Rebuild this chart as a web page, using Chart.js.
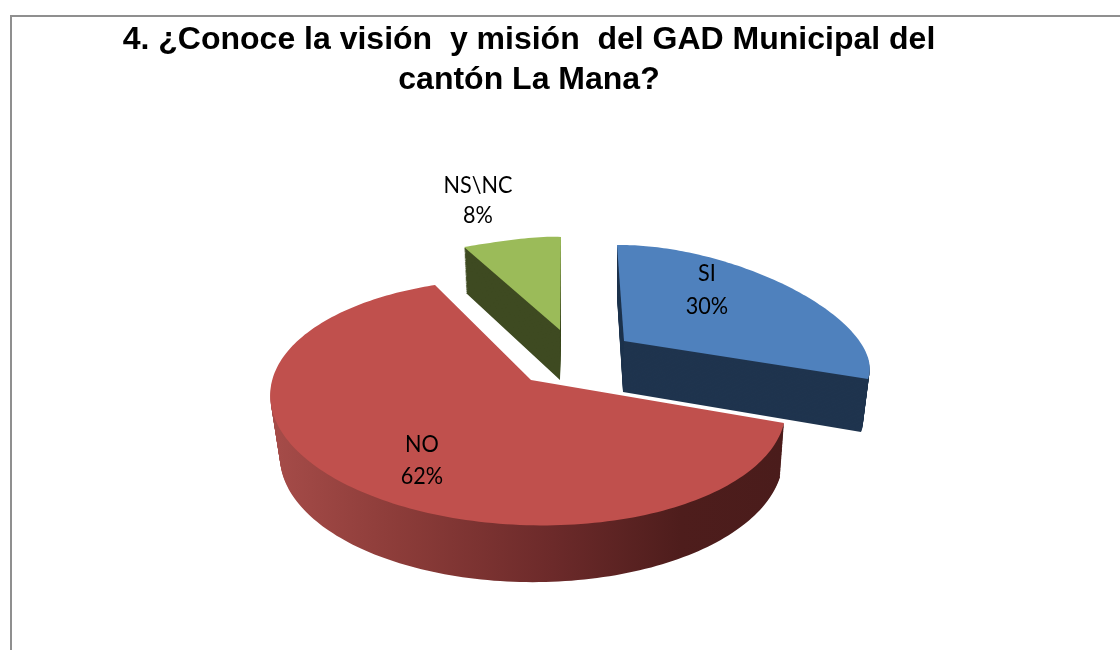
<!DOCTYPE html>
<html>
<head>
<meta charset="utf-8">
<style>
  html, body { margin: 0; padding: 0; background: #fff; overflow: hidden; }
  #frame { position: absolute; left: 10px; top: 15px; width: 1200px; height: 800px; border: 2px solid #8f8f8f; }
  canvas { position: absolute; left: 0; top: 0; }
</style>
<script src="https://cdn.jsdelivr.net/npm/chart.js@4/dist/chart.umd.min.js"></script>
</head>
<body>
<div id="frame"></div>
<canvas id="pieChart" width="1120" height="650"></canvas>
<script>
const titleLines = ['4. ¿Conoce la visión  y misión  del GAD Municipal del', 'cantón La Mana?'];
const categories = ['SI', 'NO', 'NS\\NC'];
const values = [30, 62, 8];
const faceColors = ['#4f81bd', '#c0504d', '#9bbb59'];
const sideColors = ['#1f344e', null, '#3e4a21'];

// where each exploded slice lands on the page, top face and bottom face:
// apex, then points on the arc at the fractions in `fracs`
const sliceViews = [
    { fracs: [0, 0.33, 0.66, 1], top: [[624, 341], [617, 245], [712, 258], [823, 307], [868, 379]], bottom: [[623, 392], [617, 297], [707, 311], [817, 362], [861, 432]] },
    { fracs: [0, 0.30, 0.614, 1], top: [[531, 380], [784, 423], [521, 525], [271, 405], [435, 285]], bottom: [[531, 433], [780, 477], [521, 582], [281, 468], [441, 340]] },
    { fracs: [0, 0.33, 0.66, 1], top: [[560, 330], [464, 247], [496, 242], [529, 238], [561, 237]], bottom: [[560, 380], [466, 293], [498, 291], [530, 288], [561, 287]] }
];
const labelSpots = [[707, 273, 306], [422, 444, 476], [478, 185, 215]];
const drawOrder = [2, 0, 1];

function solveHomography (src, dst, apex) {
    let m = [];
    src.forEach((s, i) => {
        let [u, v] = s, [x, y] = dst[i];
        m.push([u, v, 1, 0, 0, 0, -u * x, -v * x, x]);
        m.push([0, 0, 0, u, v, 1, -u * y, -v * y, y]);
    });
    for (let c = 0; c < 8; c++) {
        let p = c;
        for (let r = c + 1; r < 8; r++) if (Math.abs(m[r][c]) > Math.abs(m[p][c])) p = r;
        [m[c], m[p]] = [m[p], m[c]];
        for (let r = 0; r < 8; r++) {
            if (r === c) continue;
            let f = m[r][c] / m[c][c];
            for (let k = c; k < 9; k++) m[r][k] -= f * m[c][k];
        }
    }
    let h = m.map((row, i) => row[8] / row[i]);
    return (u, v) => {
        if (Math.abs(u) < 1e-6 && Math.abs(v) < 1e-6) return apex;
        let w = h[6] * u + h[7] * v + 1;
        return [(h[0] * u + h[1] * v + h[2]) / w, (h[3] * u + h[4] * v + h[5]) / w];
    };
}

// stands in for the canvas while an arc element draws itself,
// bends every point of its path through the slice's view
function projectedContext (ctx, el, project, fill) {
    let props = el.getProps(['x', 'y', 'outerRadius']);
    let put = (px, py, first) => {
        let p = project((px - props.x) / props.outerRadius, (py - props.y) / props.outerRadius);
        if (first) ctx.moveTo(p[0], p[1]); else ctx.lineTo(p[0], p[1]);
    };
    let started = false;
    return {
        save () { ctx.save(); },
        restore () { ctx.restore(); },
        translate () {},
        beginPath () { ctx.beginPath(); started = false; },
        closePath () { ctx.closePath(); },
        moveTo (x, y) { put(x, y, true); started = true; },
        lineTo (x, y) { put(x, y, !started); started = true; },
        arc (x, y, r, a0, a1) {
            let n = Math.max(2, Math.ceil(Math.abs(a1 - a0) / 0.02));
            for (let i = 0; i <= n; i++) {
                let a = a0 + (a1 - a0) * i / n;
                put(x + r * Math.cos(a), y + r * Math.sin(a), !started);
                started = true;
            }
        },
        fill () { ctx.fillStyle = fill; ctx.fill(); },
        stroke () {},
        set fillStyle (v) {},
        set strokeStyle (v) {},
        set lineWidth (v) {},
        set lineJoin (v) {},
        setLineDash () {},
        set lineDashOffset (v) {}
    };
}

const slices3d = {
    id: 'slices3d',
    beforeDatasetDraw (chart, args) {
        let ctx = chart.ctx;
        let arcs = args.meta.data;
        drawOrder.forEach(i => {
            let el = arcs[i], view = sliceViews[i];
            let a0 = el.startAngle, a1 = el.endAngle;
            let src = view.fracs.map(f => {
                let a = a0 + (a1 - a0) * f;
                return [Math.cos(a), Math.sin(a)];
            });
            let top = solveHomography(src, view.top.slice(1), view.top[0]);
            let bottom = solveHomography(src, view.bottom.slice(1), view.bottom[0]);

            let side = sideColors[i];
            if (!side) {
                side = ctx.createLinearGradient(271, 0, 783, 0);
                side.addColorStop(0, '#a64c49');
                side.addColorStop(0.25, '#8c3c39');
                side.addColorStop(0.55, '#6c2a2a');
                side.addColorStop(0.8, '#4e1d1c');
                side.addColorStop(1, '#4a1c1b');
            }
            for (let s = 40; s >= 1; s--) {
                let t = s / 40;
                let project = (u, v) => {
                    let p = top(u, v), q = bottom(u, v);
                    return [p[0] + (q[0] - p[0]) * t, p[1] + (q[1] - p[1]) * t];
                };
                el.draw(projectedContext(ctx, el, project, side));
            }
            el.draw(projectedContext(ctx, el, top, faceColors[i]));
        });
        return false;
    },
    afterDatasetsDraw (chart) {
        let ctx = chart.ctx;
        ctx.save();
        ctx.font = '24px Lato';
        ctx.fillStyle = '#000';
        ctx.textAlign = 'center';
        ctx.textBaseline = 'middle';
        let put = (text, x, y) => {
            ctx.save();
            ctx.translate(x, y);
            ctx.scale(0.9, 1);
            ctx.fillText(text, 0, 0);
            ctx.restore();
        };
        categories.forEach((name, i) => {
            put(name, labelSpots[i][0], labelSpots[i][1]);
            put(values[i] + '%', labelSpots[i][0], labelSpots[i][2]);
        });
        ctx.restore();
    }
};

new Chart(document.getElementById('pieChart'), {
    type: 'pie',
    data: {
        labels: categories,
        datasets: [{
            data: values,
            backgroundColor: faceColors,
            borderWidth: 0
        }]
    },
    options: {
        responsive: false,
        animation: false,
        devicePixelRatio: 1,
        events: [],
        layout: { padding: { right: 62 } },
        plugins: {
            legend: { display: false },
            tooltip: { enabled: false },
            title: {
                display: true,
                text: titleLines,
                color: '#000',
                font: { family: '"Liberation Sans"', size: 32, weight: 'bold', lineHeight: 1.25 },
                padding: { top: 20, bottom: 10 }
            }
        }
    },
    plugins: [slices3d]
});
</script>
</body>
</html>
